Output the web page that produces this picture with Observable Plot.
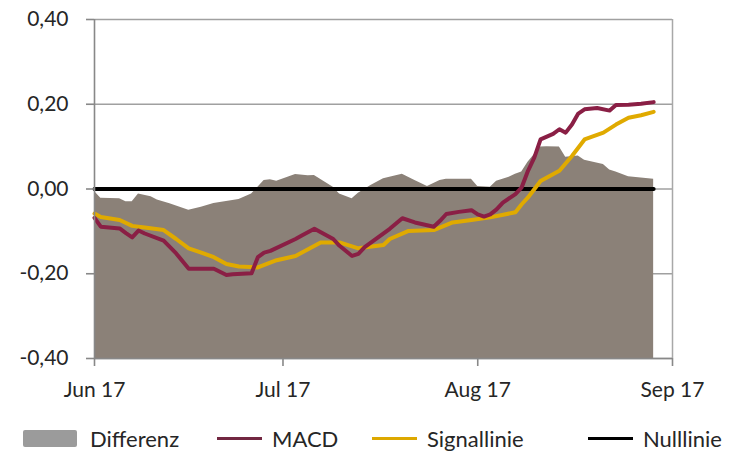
<!DOCTYPE html>
<html>
<head>
<meta charset="utf-8">
<script src="https://cdn.jsdelivr.net/npm/d3@7"></script>
<script src="https://cdn.jsdelivr.net/npm/@observablehq/plot@0.6"></script>
<style>
  html, body { margin: 0; padding: 0; background: #fff; }
  #wrap { position: relative; width: 731px; height: 454px; font-family: Lato, "Open Sans", sans-serif; font-weight: 400; color: #262626; }
  #legend { position: absolute; left: 0; top: 416px; width: 731px; height: 44px; font-size: 22px; }
  .lg { position: absolute; top: 0; height: 44px; display: flex; align-items: center; white-space: nowrap; }
  .sw-rect { width: 54px; height: 17px; background: #9b9b9b; border-radius: 2px; margin-right: 13px; }
  .sw-line { width: 45px; height: 3px; margin-right: 10px; }
</style>
</head>
<body>
<div id="wrap">
  <div id="chart"></div>
  <div id="legend"></div>
</div>
<script>
// ---- Data ----
const yTicks = [-0.4, -0.2, 0, 0.2, 0.4];
const xTickDates = ["2017-06-01", "2017-07-01", "2017-08-01", "2017-09-01"];

const macdDates = ["2017-06-01","2017-06-02","2017-06-05","2017-06-06","2017-06-07","2017-06-08","2017-06-09","2017-06-12","2017-06-14","2017-06-16","2017-06-20","2017-06-22","2017-06-23","2017-06-26","2017-06-27","2017-06-28","2017-06-29","2017-07-03","2017-07-04","2017-07-06","2017-07-09","2017-07-10","2017-07-12","2017-07-13","2017-07-14","2017-07-18","2017-07-20","2017-07-22","2017-07-25","2017-07-26","2017-07-27","2017-07-29","2017-07-31","2017-08-01","2017-08-02","2017-08-03","2017-08-04","2017-08-05","2017-08-07","2017-08-08","2017-08-09","2017-08-10","2017-08-11","2017-08-13","2017-08-14","2017-08-15","2017-08-16","2017-08-17","2017-08-18","2017-08-20","2017-08-22","2017-08-23","2017-08-25","2017-08-27","2017-08-29"];
const macdValues = [-0.068,-0.089,-0.093,-0.104,-0.114,-0.098,-0.105,-0.122,-0.152,-0.188,-0.188,-0.203,-0.201,-0.199,-0.161,-0.150,-0.146,-0.118,-0.110,-0.094,-0.118,-0.134,-0.158,-0.153,-0.137,-0.094,-0.069,-0.079,-0.089,-0.075,-0.059,-0.054,-0.050,-0.060,-0.065,-0.060,-0.048,-0.032,-0.012,0.004,0.043,0.074,0.117,0.130,0.141,0.133,0.152,0.178,0.188,0.191,0.185,0.198,0.199,0.201,0.205];

const signalDates = ["2017-06-01","2017-06-02","2017-06-05","2017-06-07","2017-06-09","2017-06-12","2017-06-14","2017-06-16","2017-06-18","2017-06-20","2017-06-22","2017-06-24","2017-06-27","2017-06-30","2017-07-03","2017-07-07","2017-07-10","2017-07-13","2017-07-17","2017-07-18","2017-07-21","2017-07-25","2017-07-28","2017-07-31","2017-08-03","2017-08-07","2017-08-08","2017-08-09","2017-08-11","2017-08-14","2017-08-16","2017-08-18","2017-08-21","2017-08-23","2017-08-25","2017-08-27","2017-08-29"];
const signalValues = [-0.058,-0.066,-0.073,-0.087,-0.091,-0.097,-0.118,-0.140,-0.150,-0.161,-0.177,-0.183,-0.185,-0.168,-0.158,-0.126,-0.126,-0.140,-0.132,-0.118,-0.099,-0.097,-0.079,-0.073,-0.067,-0.055,-0.036,-0.020,0.019,0.043,0.078,0.117,0.133,0.152,0.168,0.174,0.182];

const diffDates = ["2017-06-01","2017-06-02","2017-06-05","2017-06-06","2017-06-07","2017-06-08","2017-06-10","2017-06-11","2017-06-13","2017-06-16","2017-06-18","2017-06-20","2017-06-21","2017-06-24","2017-06-26","2017-06-28","2017-06-29","2017-06-30","2017-07-03","2017-07-05","2017-07-06","2017-07-09","2017-07-10","2017-07-12","2017-07-13","2017-07-15","2017-07-17","2017-07-18","2017-07-20","2017-07-22","2017-07-24","2017-07-26","2017-07-27","2017-07-31","2017-08-01","2017-08-03","2017-08-04","2017-08-06","2017-08-07","2017-08-08","2017-08-09","2017-08-11","2017-08-12","2017-08-14","2017-08-15","2017-08-17","2017-08-18","2017-08-21","2017-08-22","2017-08-23","2017-08-25","2017-08-27","2017-08-29"];
const diffValues = [-0.006,-0.022,-0.023,-0.030,-0.030,-0.012,-0.018,-0.026,-0.035,-0.050,-0.043,-0.034,-0.032,-0.025,-0.012,0.020,0.022,0.018,0.034,0.031,0.032,0.004,-0.012,-0.023,-0.010,0.008,0.024,0.028,0.035,0.020,0.006,0.020,0.023,0.023,0.006,0.004,0.018,0.028,0.035,0.040,0.063,0.099,0.100,0.099,0.075,0.078,0.068,0.058,0.045,0.040,0.029,0.026,0.023];

const zeroDates = ["2017-06-01", "2017-08-29"];
const zeroValues = [0, 0];

const seriesNames = ["Differenz", "MACD", "Signallinie", "Nulllinie"];
const seriesColors = ["#8b8178", "#8a1f45", "#e0aa00", "#000000"];
const legendColors = ["#9b9b9b", "#722741", "#dda800", "#000000"];

// ---- Build tables ----
const parse = d3.utcParse("%Y-%m-%d");
const toRows = (dates, values) => dates.map((d, i) => ({date: parse(d), value: values[i]}));
const macd = toRows(macdDates, macdValues);
const signal = toRows(signalDates, signalValues);
const diff = toRows(diffDates, diffValues);
const zero = toRows(zeroDates, zeroValues);
const xTicks = xTickDates.map(parse);
const yMin = yTicks[0], yMax = yTicks[yTicks.length - 1];

const fmt = v => (Math.abs(v) < 1e-9 ? 0 : v).toFixed(2).replace(".", ",");

const chart = Plot.plot({
  width: 731,
  height: 410,
  marginTop: 19,
  marginBottom: 52,
  marginLeft: 94,
  marginRight: 59,
  style: {fontFamily: "Lato, 'Open Sans', sans-serif", fontWeight: 400, fontSize: "21px", color: "#262626", background: "#fff", overflow: "visible"},
  x: {type: "utc", domain: [xTicks[0], xTicks[xTicks.length - 1]]},
  y: {domain: [yMin, yMax]},
  marks: [
    Plot.ruleY(yTicks, {stroke: "#a0a0a0", strokeWidth: 1.3}),
    Plot.areaY(diff, {x: "date", y1: yMin, y2: "value", fill: seriesColors[0], curve: "linear"}),
    Plot.ruleX([xTicks[xTicks.length - 1]], {y1: yMin, y2: yMax, stroke: "#a8a8a8", strokeWidth: 1.5}),
    Plot.line(zero, {x: "date", y: "value", stroke: seriesColors[3], strokeWidth: 4}),
    Plot.line(signal, {x: "date", y: "value", stroke: seriesColors[2], strokeWidth: 4, strokeLinejoin: "round", strokeLinecap: "round"}),
    Plot.line(macd, {x: "date", y: "value", stroke: seriesColors[1], strokeWidth: 4, strokeLinejoin: "round", strokeLinecap: "round"}),
    Plot.ruleX([xTicks[0]], {y1: yMin, y2: yMax, stroke: "#888", strokeWidth: 1.6}),
    Plot.ruleY([yMin], {stroke: "#888", strokeWidth: 1.6}),
    Plot.axisY(yTicks, {tickFormat: fmt, tickSize: 8, tickPadding: 18, stroke: "#888", strokeWidth: 1.6, fill: "#262626", label: null}),
    Plot.axisX(xTicks, {tickFormat: d3.utcFormat("%b %y"), tickSize: 8, tickPadding: 16, stroke: "#888", strokeWidth: 1.6, fill: "#262626", label: null})
  ]
});
document.getElementById("chart").appendChild(chart);

// ---- Legend ----
const legendX = [23, 217, 372, 588];
const legend = document.getElementById("legend");
seriesNames.forEach((name, i) => {
  const item = document.createElement("div");
  item.className = "lg";
  item.style.left = legendX[i] + "px";
  const sw = document.createElement("div");
  if (i === 0) {
    sw.className = "sw-rect";
    sw.style.background = legendColors[i];
  } else {
    sw.className = "sw-line";
    sw.style.background = legendColors[i];
  }
  const label = document.createElement("span");
  label.textContent = name;
  item.appendChild(sw);
  item.appendChild(label);
  legend.appendChild(item);
});
</script>
</body>
</html>
